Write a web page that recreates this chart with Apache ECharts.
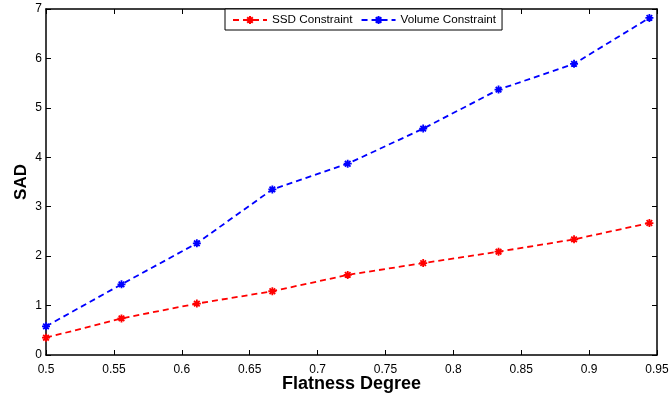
<!DOCTYPE html>
<html>
<head>
<meta charset="utf-8">
<script src="https://cdn.jsdelivr.net/npm/echarts@6/dist/echarts.min.js"></script>
<style>
  html, body { margin: 0; padding: 0; background: #fff; }
  #chart { width: 669px; height: 398px; }
</style>
</head>
<body>
<div id="chart"></div>
<script>
// Flatness degree samples (x) and SAD for the two constraint variants
const flatness = [0.5, 0.5556, 0.6111, 0.6667, 0.7222, 0.7778, 0.8333, 0.8889, 0.9444];
const ssdConstraint = [0.35, 0.74, 1.04, 1.29, 1.62, 1.86, 2.09, 2.34, 2.67];
const volumeConstraint = [0.58, 1.43, 2.26, 3.35, 3.87, 4.58, 5.37, 5.89, 6.82];
const xTicks = [0.5, 0.55, 0.6, 0.65, 0.7, 0.75, 0.8, 0.85, 0.9, 0.95];
const yTicks = [0, 1, 2, 3, 4, 5, 6, 7];

const pairs = (xs, ys) => xs.map((x, i) => [x, ys[i]]);
const asterisk = 'path://M0,-10L0,10M-10,0L10,0M-7,-7L7,7M-7,7L7,-7';
const font = 'Liberation Sans, Arial, sans-serif';

const chart = echarts.init(document.getElementById('chart'), null, { renderer: 'canvas' });

const tickLabel = v => String(Math.round(v * 100) / 100);

const baseX = {
  type: 'value', min: xTicks[0], max: xTicks[xTicks.length - 1], interval: 0.05,
  axisLine: { show: true, onZero: false, lineStyle: { color: '#000', width: 1.5 } },
  axisTick: { show: true, inside: true, length: 5, lineStyle: { color: '#000' } },
  splitLine: { show: false }
};
const baseY = {
  type: 'value', min: yTicks[0], max: yTicks[yTicks.length - 1], interval: 1,
  axisLine: { show: true, onZero: false, lineStyle: { color: '#000', width: 1.5 } },
  axisTick: { show: true, inside: true, length: 5, lineStyle: { color: '#000' } },
  splitLine: { show: false }
};

function lineSeries(name, data, color) {
  return {
    name, type: 'line', data, xAxisIndex: 0, yAxisIndex: 0,
    symbol: asterisk, symbolSize: 8,
    lineStyle: { color, width: 1.8, type: [6, 4] },
    itemStyle: { color, borderColor: color, borderWidth: 1.8 },
    emphasis: { disabled: true },
    animation: false
  };
}

chart.setOption({
  backgroundColor: '#fff',
  animation: false,
  grid: { left: 46, right: 12, top: 9, bottom: 43, containLabel: false, outerBoundsMode: 'none' },
  legend: {
    top: 9, left: 225,
    padding: [5, 6, 4, 7],
    itemGap: 8, itemWidth: 34, itemHeight: 10,
    backgroundColor: '#fff', borderColor: '#000', borderWidth: 1, borderRadius: 0,
    textStyle: { fontFamily: font, fontSize: 11.7, color: '#000' },
    data: ['SSD Constraint', 'Volume Constraint']
  },
  xAxis: [
    Object.assign({}, baseX, {
      position: 'bottom',
      name: 'Flatness Degree', nameLocation: 'middle', nameGap: 20, nameMoveOverlap: false,
      nameTextStyle: { fontFamily: font, fontSize: 18, fontWeight: 'bold', color: '#000' },
      axisLabel: { fontFamily: font, fontSize: 12, color: '#000', margin: 9, formatter: tickLabel, showMaxLabel: true, showMinLabel: true }
    }),
    Object.assign({}, baseX, { position: 'top', axisLabel: { show: false } })
  ],
  yAxis: [
    Object.assign({}, baseY, {
      position: 'left',
      name: 'SAD', nameLocation: 'middle', nameGap: 16, nameMoveOverlap: false,
      nameTextStyle: { fontFamily: font, fontSize: 17, fontWeight: 'bold', color: '#000' },
      axisLabel: { fontFamily: font, fontSize: 12, color: '#000', margin: 4, formatter: tickLabel }
    }),
    Object.assign({}, baseY, { position: 'right', axisLabel: { show: false } })
  ],
  series: [
    lineSeries('SSD Constraint', pairs(flatness, ssdConstraint), '#ff0000'),
    lineSeries('Volume Constraint', pairs(flatness, volumeConstraint), '#0000ff')
  ]
});
</script>
</body>
</html>
